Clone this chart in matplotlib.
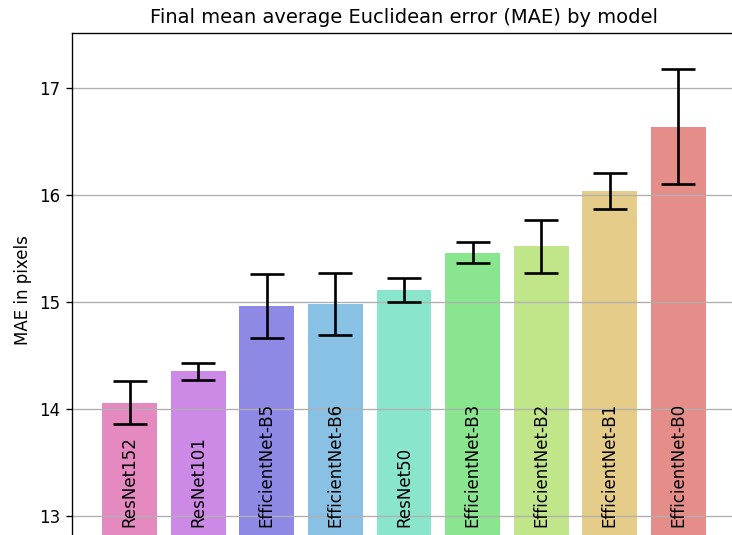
import matplotlib
matplotlib.use("Agg")
import matplotlib.pyplot as plt
import numpy as np
import seaborn as sns

# models sorted by final MAE (ascending)
models = ["ResNet152", "ResNet101", "EfficientNet-B5", "EfficientNet-B6", "ResNet50",
          "EfficientNet-B3", "EfficientNet-B2", "EfficientNet-B1", "EfficientNet-B0"]
mae = [14.06, 14.35, 14.96, 14.98, 15.11, 15.46, 15.52, 16.04, 16.64]
mae_std = [0.20, 0.08, 0.30, 0.29, 0.11, 0.10, 0.25, 0.17, 0.54]

colors = sns.color_palette("hls", len(models))[::-1]

fig = plt.figure(figsize=(7.32 / 1.2, 5.35 / 1.2), dpi=120)
ax = fig.add_axes([0.0984, -0.0243, 0.907, 0.9626])

x = np.arange(len(models))
ax.bar(x, mae, width=0.8, color=colors, alpha=0.7)
ax.errorbar(x, mae, yerr=mae_std, fmt="none", ecolor="black",
            elinewidth=1.6, capsize=10, capthick=1.6)

for xi, name in zip(x, models):
    ax.text(xi, 12.9, name, rotation=90, ha="center", va="bottom", fontsize=10)

ax.set_ylim(12.7, 17.514)
ax.set_xticks([])
ax.set_yticks([13, 14, 15, 16, 17])
ax.grid(axis="y")
ax.set_ylabel("MAE in pixels")
ax.set_title("Final mean average Euclidean error (MAE) by model", fontsize=11.7)

fig.savefig("out.png", dpi=120)
